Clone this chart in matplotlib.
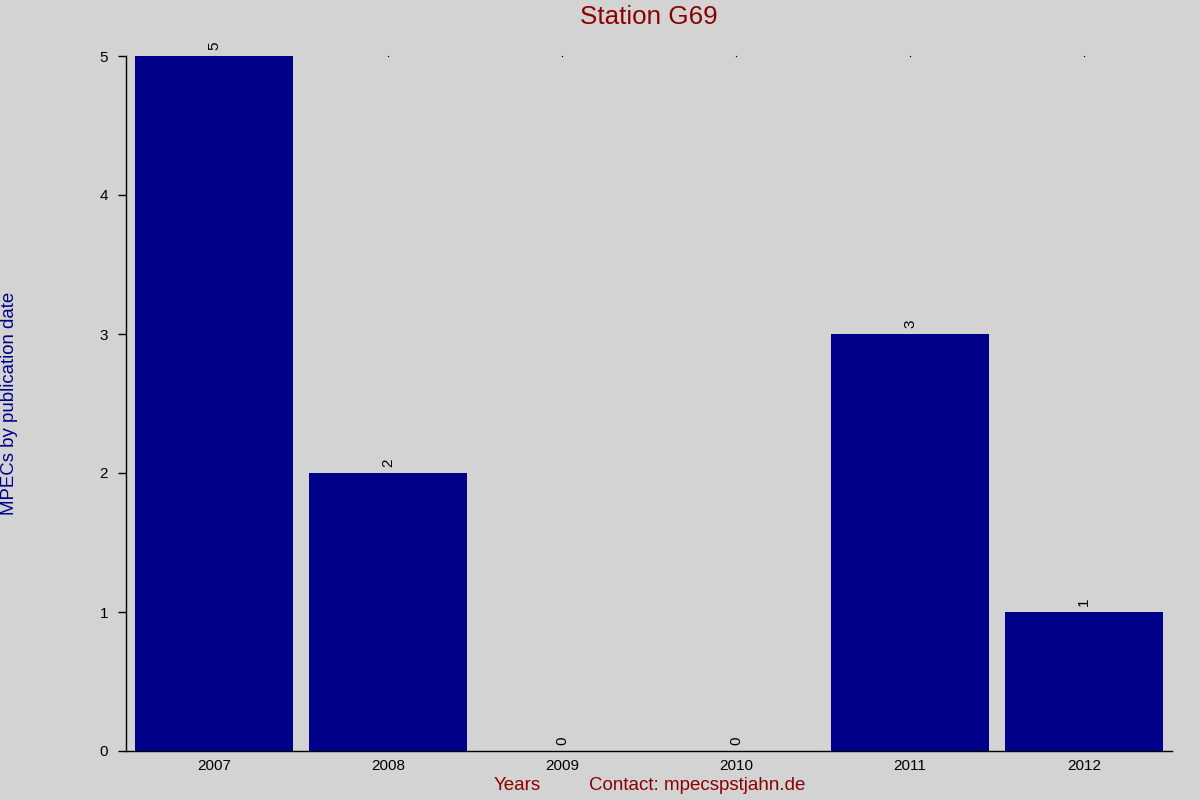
import matplotlib
matplotlib.use("Agg")
import matplotlib.pyplot as plt

years = ["2007", "2008", "2009", "2010", "2011", "2012"]
counts = [5, 2, 0, 0, 3, 1]
y_ticks = [0, 1, 2, 3, 4, 5]

plt.rcParams['font.family'] = ['Liberation Sans', 'DejaVu Sans']
fig = plt.figure(figsize=(12, 8), dpi=100, facecolor='#d3d3d3')
ax = fig.add_axes([126/1200, 49/800, (1172-126)/1200, (751-56)/800])
ax.set_facecolor('#d3d3d3')

x = list(range(len(years)))
ax.bar(x, counts, width=0.908, color='#00008b', zorder=2)
ax.plot(x, [max(counts)] * len(x), linestyle='none', marker='o', markersize=1.0,
        markeredgewidth=0, color='black', zorder=1, clip_on=False)
for xi, c in zip(x, counts):
    ax.text(xi, c + 0.045, str(c), rotation=90, ha='center', va='bottom',
            fontsize=11, color='black', clip_on=False)

ax.set_xlim(-0.506, 5.506)
ax.set_ylim(0, 5)
for name, s in ax.spines.items():
    if name in ('top', 'right'):
        s.set_visible(False)
    else:
        s.set_linewidth(1.0)
        s.set_color('black')

ax.set_xticks(x)
ax.set_xticklabels(years, fontsize=11)
ax.tick_params(axis='x', length=0, pad=5.5)
ax.set_yticks(y_ticks)
ax.set_yticklabels([str(t) for t in y_ticks], fontsize=11)
ax.tick_params(axis='y', length=5.8, width=1, pad=7.2, direction='out')

fig.text(648.5/1200, 1 - 17/800, "Station G69", ha='center', va='center',
         fontsize=18.7, color='#8b0000')
fig.text(10/1200, 1 - 403/800, "MPECs by publication date", rotation=90,
         ha='center', va='center', fontsize=13.4, color='#00008b')
fig.text(517/1200, 1 - 786/800, "Years", ha='center', va='center',
         fontsize=13.5, color='#8b0000')
fig.text(697.5/1200, 1 - 786/800, "Contact: mpecspstjahn.de", ha='center',
         va='center', fontsize=13.5, color='#8b0000')

fig.savefig('out.png', dpi=100, facecolor='#d3d3d3')
